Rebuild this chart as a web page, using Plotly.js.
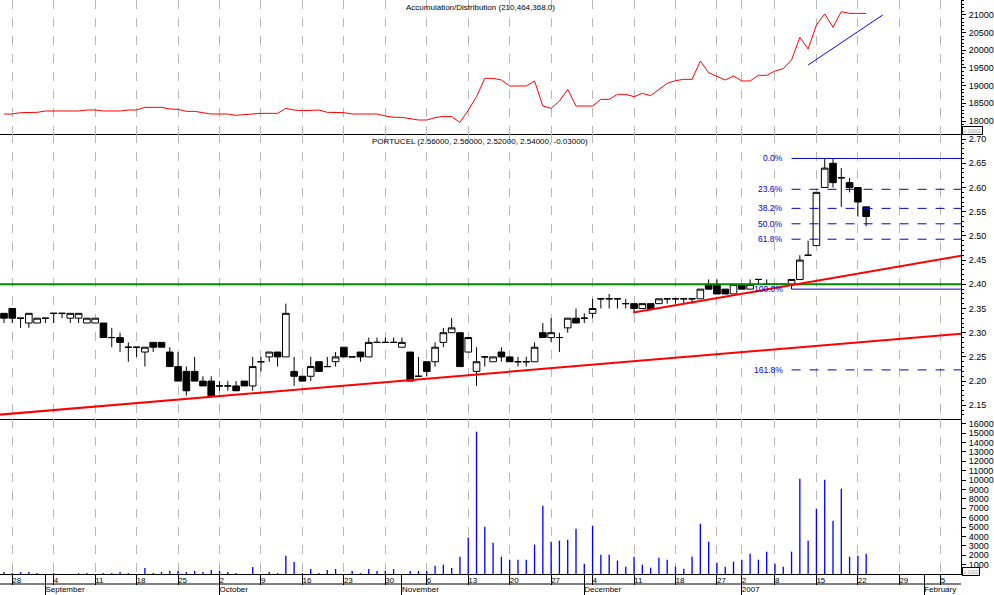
<!DOCTYPE html>
<html><head><meta charset="utf-8">
<script src="https://cdn.plot.ly/plotly-3.0.1.min.js"></script>
<style>html,body{margin:0;padding:0;background:#fff}#chart{width:994px;height:595px}</style>
</head><body><div id="chart"></div>
<script>
// Trading calendar shown on the time axis (data runs to 2007-01-23)
const dates = [
'2006-08-25','2006-08-28','2006-08-29','2006-08-30','2006-08-31',
'2006-09-01','2006-09-04','2006-09-05','2006-09-06','2006-09-07','2006-09-08',
'2006-09-11','2006-09-12','2006-09-13','2006-09-14','2006-09-15',
'2006-09-18','2006-09-19','2006-09-20','2006-09-21','2006-09-22',
'2006-09-25','2006-09-26','2006-09-27','2006-09-28','2006-09-29',
'2006-10-02','2006-10-03','2006-10-04','2006-10-05','2006-10-06',
'2006-10-09','2006-10-10','2006-10-11','2006-10-12','2006-10-13',
'2006-10-16','2006-10-17','2006-10-18','2006-10-19','2006-10-20',
'2006-10-23','2006-10-24','2006-10-25','2006-10-26','2006-10-27',
'2006-10-30','2006-10-31','2006-11-01','2006-11-02','2006-11-03',
'2006-11-06','2006-11-07','2006-11-08','2006-11-09','2006-11-10',
'2006-11-13','2006-11-14','2006-11-15','2006-11-16','2006-11-17',
'2006-11-20','2006-11-21','2006-11-22','2006-11-23','2006-11-24',
'2006-11-27','2006-11-28','2006-11-29','2006-11-30','2006-12-01',
'2006-12-04','2006-12-05','2006-12-06','2006-12-07','2006-12-08',
'2006-12-11','2006-12-12','2006-12-13','2006-12-14','2006-12-15',
'2006-12-18','2006-12-19','2006-12-20','2006-12-21','2006-12-22',
'2006-12-27','2006-12-28','2006-12-29',
'2007-01-02','2007-01-03','2007-01-04','2007-01-05',
'2007-01-08','2007-01-09','2007-01-10','2007-01-11','2007-01-12',
'2007-01-15','2007-01-16','2007-01-17','2007-01-18','2007-01-19',
'2007-01-22','2007-01-23','2007-01-24','2007-01-25','2007-01-26',
'2007-01-29','2007-01-30','2007-01-31','2007-02-01','2007-02-02',
'2007-02-05','2007-02-06','2007-02-07','2007-02-08','2007-02-09'
];

const open = [
2.34,2.35,2.33,2.32,2.32,2.33,2.34,2.34,2.33,2.33,
2.32,2.32,2.32,2.29,2.29,2.27,2.27,2.26,2.28,2.28,
2.26,2.23,2.22,2.22,2.20,2.20,2.19,2.19,2.19,2.20,
2.19,2.24,2.25,2.26,2.25,2.22,2.21,2.21,2.24,2.23,
2.24,2.27,2.25,2.26,2.25,2.28,2.28,2.28,2.27,2.26,
2.21,2.24,2.24,2.28,2.30,2.30,2.26,2.22,2.25,2.24,
2.26,2.25,2.24,2.24,2.24,2.30,2.29,2.29,2.31,2.33,
2.33,2.34,2.37,2.37,2.37,2.36,2.36,2.35,2.36,2.36,
2.37,2.37,2.37,2.37,2.37,2.40,2.40,2.39,2.38,2.40,
2.39,2.41,2.40,2.40,2.40,2.40,2.41,2.46,2.48,2.60,
2.65,2.62,2.61,2.60,2.56];
const high = [
2.34,2.35,2.33,2.34,2.33,2.33,2.34,2.34,2.34,2.34,
2.33,2.33,2.32,2.31,2.30,2.28,2.27,2.27,2.28,2.28,
2.27,2.26,2.23,2.25,2.21,2.21,2.20,2.20,2.20,2.20,
2.25,2.25,2.26,2.26,2.36,2.25,2.21,2.25,2.24,2.25,
2.26,2.27,2.25,2.26,2.29,2.29,2.29,2.29,2.29,2.26,
2.25,2.24,2.28,2.31,2.33,2.30,2.29,2.27,2.25,2.25,
2.27,2.25,2.25,2.25,2.28,2.32,2.33,2.30,2.33,2.35,
2.34,2.37,2.37,2.38,2.37,2.37,2.36,2.36,2.36,2.37,
2.37,2.37,2.37,2.37,2.39,2.41,2.41,2.39,2.40,2.40,
2.41,2.41,2.41,2.40,2.40,2.41,2.46,2.49,2.59,2.66,
2.66,2.64,2.62,2.60,2.56];
const low = [
2.32,2.32,2.31,2.31,2.32,2.32,2.32,2.33,2.32,2.32,
2.32,2.32,2.29,2.27,2.26,2.24,2.25,2.23,2.26,2.27,
2.23,2.20,2.17,2.20,2.19,2.17,2.18,2.18,2.18,2.19,
2.18,2.22,2.24,2.23,2.25,2.19,2.20,2.20,2.22,2.23,
2.23,2.25,2.25,2.24,2.25,2.28,2.28,2.28,2.27,2.20,
2.21,2.21,2.23,2.27,2.30,2.23,2.26,2.19,2.23,2.24,
2.24,2.24,2.23,2.23,2.24,2.29,2.28,2.26,2.30,2.32,
2.32,2.33,2.35,2.35,2.35,2.35,2.34,2.35,2.35,2.36,
2.36,2.36,2.36,2.36,2.37,2.39,2.38,2.38,2.38,2.39,
2.39,2.40,2.40,2.40,2.40,2.39,2.41,2.46,2.48,2.60,
2.60,2.56,2.59,2.54,2.52];
const close = [
2.33,2.33,2.33,2.34,2.33,2.33,2.34,2.34,2.34,2.34,
2.33,2.33,2.29,2.29,2.28,2.27,2.27,2.27,2.27,2.27,
2.23,2.20,2.18,2.20,2.19,2.17,2.19,2.19,2.18,2.19,
2.23,2.24,2.26,2.25,2.34,2.21,2.20,2.23,2.22,2.23,
2.25,2.25,2.25,2.25,2.28,2.28,2.28,2.28,2.28,2.20,
2.21,2.22,2.27,2.30,2.31,2.23,2.29,2.24,2.25,2.25,
2.25,2.24,2.24,2.24,2.27,2.29,2.30,2.29,2.33,2.32,
2.33,2.35,2.37,2.37,2.37,2.36,2.35,2.36,2.35,2.37,
2.37,2.37,2.37,2.37,2.39,2.39,2.38,2.38,2.40,2.39,
2.40,2.41,2.40,2.40,2.40,2.41,2.45,2.46,2.59,2.64,
2.61,2.62,2.60,2.57,2.54];

// volume in thousands of shares
const volume = [
0.21,0.10,0.21,0.21,0.10,0,0.10,0,0,0.10,
0.10,0,0.10,0.10,0.21,0.10,0,0.64,0.10,0.21,
0.32,0.32,0.21,0.32,0.21,0.43,0.32,0.21,0.10,0,
0.75,0,0.21,0.10,1.95,1.28,0.10,0.53,0.10,0.43,
0.53,0,0.32,0.10,0.53,0.32,0.32,0.53,0,0.32,
0.32,0.32,0.89,0.99,0.64,1.84,3.87,15.14,5.04,3.33,
1.84,1.52,1.52,1.52,3.12,7.27,3.44,3.55,3.65,4.82,
1.10,5.14,2.06,2.06,1.42,0.78,1.84,0.99,0.67,1.74,
1.52,0.78,0.57,1.84,5.35,3.44,1.21,0.78,1.31,1.52,
2.16,1.52,2.38,1.10,0.78,2.38,10.14,3.55,6.95,10.04,
5.67,9.08,1.84,1.95,2.16];

// Accumulation/Distribution (x 10000)
const accDist = [
18198,18198,18236,18245,18245,18283,18283,18283,18283,18283,
18311,18311,18283,18283,18283,18311,18311,18387,18387,18387,
18340,18330,18273,18273,18236,18198,18198,18198,18160,18179,
18217,18217,18217,18217,18358,18311,18292,18311,18311,18245,
18245,18236,18198,18198,18217,18198,18142,18104,18104,18066,
18028,18028,18094,18132,18123,17962,18302,18689,19207,19207,
19160,18990,18990,18990,19132,18424,18358,18566,18896,18424,
18424,18424,18613,18613,18755,18755,18689,18783,18717,18896,
19066,19142,19179,19179,19698,19368,19255,19160,19274,19132,
19132,19292,19292,19415,19481,19726,20368,20038,20717,21028,
20651,21094,21046,21046,21046];

// analyst drawings (bar index, value)
const adTrendX = [97, 106], adTrendY = [19585, 21000];
const supportLongX = [-0.5, 116], supportLongY = [2.1307, 2.2987];
const supportShortX = [75.9, 116], supportShortY = [2.3415, 2.4606];
const resistanceX = [-0.5, 116], resistanceY = [2.40, 2.40];
const fibHigh = 2.66, fibLow = 2.39, fibStart = 95;
const fibRatios = [0, 0.236, 0.382, 0.5, 0.618, 1.0, 1.618];
const fibLabels = ['0.0%', '23.6%', '38.2%', '50.0%', '61.8%', '100.0%', '161.8%'];

const titleAD = 'Accumulation/Distribution (210,464,368.0)';
const titlePrice = 'PORTUCEL (2.56000, 2.56000, 2.52000, 2.54000, -0.03000)';
const monthNames = ['January','February','March','April','May','June','July','August','September','October','November','December'];
const volTicks = [1000,2000,3000,4000,5000,6000,7000,8000,9000,10000,11000,12000,13000,14000,15000,16000];

// ---- derived ----
const n = close.length;
const idx = dates.slice(0, n).map((d, i) => i);
const weekIdx = [], dayLabels = [], monthIdx = [], monthLabels = [];
for (let i = 1; i < dates.length; i++) {
  const d = new Date(dates[i] + 'T00:00:00Z'), p = new Date(dates[i - 1] + 'T00:00:00Z');
  if (d.getUTCDay() < p.getUTCDay() || (d - p) > 6 * 864e5) { weekIdx.push(i); dayLabels.push(String(d.getUTCDate())); }
  if (d.getUTCMonth() !== p.getUTCMonth()) {
    monthIdx.push(i);
    monthLabels.push(d.getUTCMonth() === 0 ? String(d.getUTCFullYear()) : monthNames[d.getUTCMonth()]);
  }
}

const FONT = 'Liberation Sans, Arial, sans-serif';
const XR = [-0.48, 115.44];
const traces = [];
traces.push({type:'scatter', mode:'lines', x: idx, y: accDist, xaxis:'x', yaxis:'y',
  line:{color:'#ff0000', width:1}});
traces.push({type:'scatter', mode:'lines', x: adTrendX, y: adTrendY, xaxis:'x', yaxis:'y',
  line:{color:'#0000ff', width:1}});
traces.push({type:'scatter', mode:'lines', x: resistanceX, y: resistanceY, xaxis:'x2', yaxis:'y2',
  line:{color:'#008800', width:2}});
traces.push({type:'scatter', mode:'lines', x: supportLongX, y: supportLongY, xaxis:'x2', yaxis:'y2',
  line:{color:'#ff0000', width:2}});
traces.push({type:'scatter', mode:'lines', x: supportShortX, y: supportShortY, xaxis:'x2', yaxis:'y2',
  line:{color:'#ff0000', width:2}});
const annotations = [];
fibRatios.forEach((r, k) => {
  const lvl = fibHigh - r * (fibHigh - fibLow);
  traces.push({type:'scatter', mode:'lines', x:[fibStart, 116], y:[lvl, lvl], xaxis:'x2', yaxis:'y2',
    line:{color:'#0000cc', width:1, dash:(r === 0 || r === 1) ? 'solid' : 'dash'}});
  annotations.push({xref:'x2', yref:'y2', x: fibStart, y: lvl, xanchor:'right', yanchor:'middle', xshift:-7,
    text: fibLabels[k], showarrow:false, font:{family:FONT, size:8.5, color:'#0000dd'}});
});
traces.push({type:'candlestick', x: idx, open: open, high: high, low: low, close: close,
  xaxis:'x2', yaxis:'y2', whiskerwidth:0,
  increasing:{line:{color:'#000', width:1}, fillcolor:'#ffffff'},
  decreasing:{line:{color:'#000', width:1}, fillcolor:'#000000'}});
traces.push({type:'bar', x: idx, y: volume.map(v => v * 1000), xaxis:'x3', yaxis:'y3',
  width:0.16, marker:{color:'#0000ff', line:{width:0}}});
// invisible carriers so that the label/tick axes of the time scale are drawn
['x4','x5','x6','x7'].forEach(ax => traces.push({type:'scatter', mode:'markers', x:[weekIdx[0]], y:[null],
  xaxis: ax, yaxis:'y3', marker:{opacity:0}, showlegend:false}));

annotations.push({xref:'paper', yref:'paper', x:0.4995, y:(574-7)/574, xanchor:'center', yanchor:'middle',
  text:titleAD, showarrow:false, font:{family:FONT, size:8, color:'#000'}});
annotations.push({xref:'paper', yref:'paper', x:0.4995, y:(574-141)/574, xanchor:'center', yanchor:'middle',
  text:titlePrice, showarrow:false, font:{family:FONT, size:8, color:'#000'}});
annotations.push({xref:'paper', yref:'paper', x:962/961, y:(574-130)/574, xanchor:'left', yanchor:'middle',
  text:'x 10000', showarrow:false, font:{family:FONT, size:5, color:'#999'}, bordercolor:'#000', borderwidth:1, borderpad:0.5, bgcolor:'#fff'});
annotations.push({xref:'paper', yref:'paper', x:962/961, y:(574-571)/574, xanchor:'left', yanchor:'middle',
  text:'x 1000', showarrow:false, font:{family:FONT, size:5, color:'#999'}, bordercolor:'#000', borderwidth:1, borderpad:0.5, bgcolor:'#fff'});

const gridX = {range: XR, tickmode:'array', tickvals: weekIdx, showticklabels:false, ticks:'',
  showgrid:true, gridcolor:'#b8b8b8', griddash:'dash', gridwidth:1, zeroline:false,
  showline:true, linecolor:'#000', linewidth:1, fixedrange:true};
const yBase = {side:'right', ticks:'outside', ticklen:4, tickcolor:'#000', showline:true, linecolor:'#000', linewidth:1,
  showgrid:false, zeroline:false, tickfont:{family:FONT, size:9, color:'#000'}, ticklabelstandoff:1, fixedrange:true};
const ovl = (extra) => Object.assign({overlaying:'x3', anchor:'y3', range: XR, tickmode:'array', showgrid:false,
  zeroline:false, showline:false, fixedrange:true, tickfont:{family:FONT, size:8, color:'#000'}}, extra);

const layout = {
  width:994, height:595, margin:{l:0, r:33, t:0, b:21}, paper_bgcolor:'#fff', plot_bgcolor:'#fff',
  showlegend:false, hovermode:false, boxgap:0.2, boxgroupgap:0,
  xaxis: Object.assign({}, gridX, {anchor:'y'}),
  xaxis2: Object.assign({}, gridX, {anchor:'y2', rangeslider:{visible:false}}),
  xaxis3: Object.assign({}, gridX, {anchor:'y3'}),
  xaxis4: ovl({tickvals: weekIdx, ticks:'outside', ticklen:10, tickcolor:'#000', tickwidth:1, showticklabels:false}),
  xaxis5: ovl({tickvals: weekIdx, ticktext: dayLabels, ticks:'', ticklabelposition:'outside right'}),
  xaxis6: ovl({tickvals: monthIdx, ticks:'outside', ticklen:21, tickcolor:'#000', tickwidth:1, showticklabels:false}),
  xaxis7: ovl({tickvals: monthIdx, ticktext: monthLabels, ticks:'', ticklabelposition:'outside right', ticklabelstandoff:9}),
  yaxis: Object.assign({}, yBase, {domain:[(574-134)/574, 1], anchor:'x', range:[17632, 21424], tickmode:'linear', tick0:0, dtick:500, tickformat:'d',
    minor:{ticks:'outside', ticklen:2, tickcolor:'#000', dtick:100}}),
  yaxis2: Object.assign({}, yBase, {domain:[(574-419)/574, (574-134)/574], anchor:'x2', range:[2.1217, 2.7105], tickmode:'linear', tick0:2, dtick:0.05, tickformat:'.2f',
    minor:{ticks:'outside', ticklen:2, tickcolor:'#000', dtick:0.01}}),
  yaxis3: Object.assign({}, yBase, {domain:[0, (574-419)/574], anchor:'x3', range:[0, 16490], tickmode:'array', tickvals: volTicks, ticktext: volTicks.map(String)}),
  shapes: [{type:'line', xref:'paper', yref:'paper', x0:0, x1:1, y0:-10/574, y1:-10/574, line:{color:'#000', width:1}}],
  annotations: annotations
};
Plotly.newPlot('chart', traces, layout, {staticPlot:true, displayModeBar:false});
</script>
</body></html>
